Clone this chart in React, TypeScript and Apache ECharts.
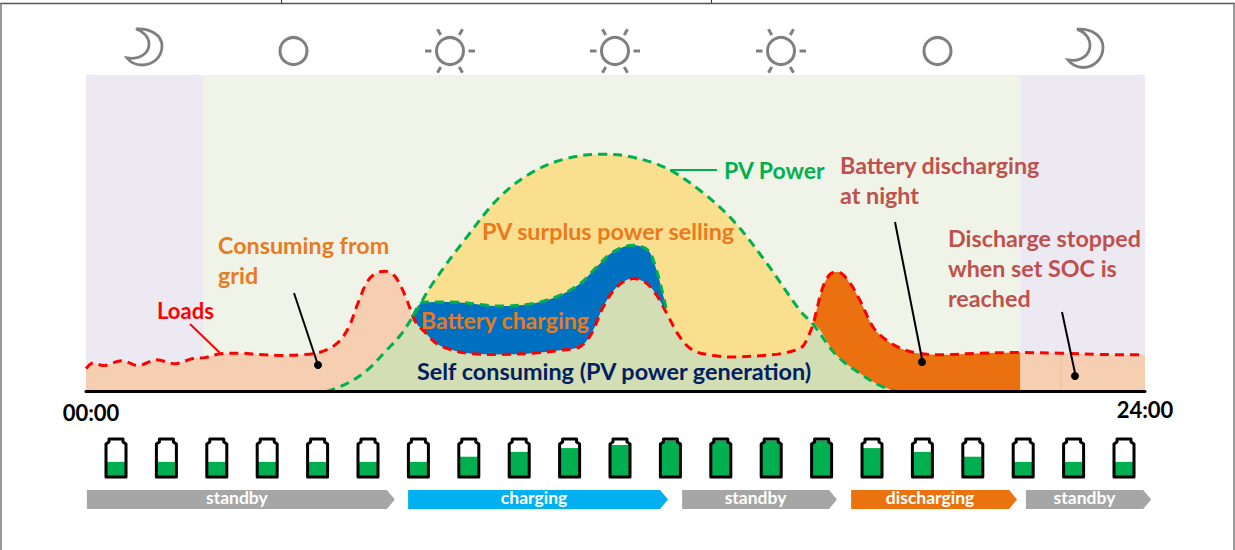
import React, { useEffect, useRef } from "react";
import * as echarts from "echarts";

// --- data: time in hours, power as a percentage of the plot height ---
const loadsHours = [0,0.16,0.39,0.81,1.18,1.6,2.02,2.42,2.7,3.04,3.49,3.94,4.4,4.85,5.3,5.68,5.94,6.16,6.37,6.55,6.78,7,7.23,7.41,7.49,7.64,7.95,8.32,8.77,9.38,10.13,10.74,11.2,11.46,11.72,12.03,12.4,12.71,12.96,13.16,13.46,13.76,14.21,14.66,15.27,15.8,16.22,16.36,16.48,16.52,16.7,16.86,17.02,17.27,17.54,17.84,18.15,18.52,18.9,19.35,20.26,21.17,22.07,22.98,24];
const loadsPower = [7.2,9,8.2,9.7,8.2,10,8.8,10.4,10.7,11.9,12.1,11.7,11.4,11.6,12.4,15.1,19.9,27.8,34.6,37.2,38,36.4,30.4,23.7,21.5,19.3,15.1,13,11.9,11.7,12.1,13,14.2,18.4,26.7,33,35.7,34.1,29.8,24.7,17.2,13,11.4,10.9,11.3,12.1,14,17.2,21.2,23.5,33,37,37.8,35.1,28.8,20.3,16.1,13.3,12,11.6,12.1,12.3,12.1,11.7,11.6];
const pvHours = [5.45,5.91,6.36,6.81,7.12,7.41,7.86,8.63,9.38,10.13,10.89,11.72,12.4,13.16,13.91,14.66,15.43,16.18,16.48,17.01,17.54,17.99,18.37];
const pvPower = [0,2.5,6.6,13,17.7,23.7,34.2,48.8,61.5,69.4,73.6,75,74,70.5,63.6,54.1,40.5,25.6,21.2,11.4,5.7,1.9,0];
const chargeHours = [7.41,7.64,8.25,9.38,10.13,10.74,11.2,11.57,11.94,12.4,12.74,12.93,13.07,13.14,13.16];
const chargePower = [23.7,28.2,28.3,27,27.8,30.4,34.1,39.3,44.1,46.2,44.6,38.3,31,26.7,24.7];
const crossIn = 7.41;
const crossOut = 16.48;
const dischargeEnd = 21.17;
const batteryLevels = [38,38,38,38,38,38,38,53,67,78,87,100,100,100,100,78,67,53,38,38,38];
const stateNames = ["standby","charging","standby","discharging","standby"];
const stateStart = [0.02,7.3,13.51,17.34,21.3];
const stateEnd = [7,13.19,17.02,21.1,24.14];
const bandStart = [0,2.67,21.17];
const bandEnd = [2.67,21.17,24];
const tickLabels = ["00:00","24:00"];

const MOON = "M136 29C150 28 162 35 162 46C162 58 152 65 142 65C136 65 130 62 127 58C140 60 149 53 149 44C149 37 143 31 136 29Z";
echarts.graphic.registerShape("moon", echarts.graphic.extendPath(MOON, {}));

const pairs = (xs: number[], ys: number[]) => xs.map((x, i) => [x, ys[i]]);
const loads = pairs(loadsHours, loadsPower);
const pv = pairs(pvHours, pvPower);
const charge = pairs(chargeHours, chargePower);
const inRange = (d: number[][], a: number, b: number) => d.filter((p) => p[0] >= a && p[0] <= b);
const selfUse = [
  ...inRange(pv, 0, crossIn),
  ...inRange(loads, crossIn + 0.01, crossOut - 0.01),
  ...inRange(pv, crossOut, 24),
];

const FONT = "Lato, 'Open Sans', sans-serif";
const smooth = 0.35;
const area = (data: number[][], color: string, z: number) => ({
  type: "line", data, z, smooth, symbol: "none", silent: true,
  lineStyle: { width: 0 }, areaStyle: { color, opacity: 1 },
});
const dashed = (data: number[][], color: string, z: number) => ({
  type: "line", data, z, smooth, symbol: "none", silent: true,
  lineStyle: { color, width: 3, type: [9, 6] },
});

const gray = "#7F7F7F";
const ORANGE = "#E97A1E";
const BRICK = "#C0504D";
const text = (t: string, x: number, y: number, fill: string, size = 23.3, align = "left") => ({
  type: "text", z: 100, style: { text: t, x, y, fill, font: `700 ${size}px ${FONT}`, align, verticalAlign: "middle" },
});
const seg = (x1: number, y1: number, x2: number, y2: number, stroke: string, lineWidth = 2) => ({
  type: "line", z: 100, shape: { x1, y1, x2, y2 }, style: { stroke, lineWidth },
});
const dot = (cx: number, cy: number) => ({
  type: "circle", z: 100, shape: { cx, cy, r: 4 }, style: { fill: "#000" },
});
const ringIcon = (cx: number, cy: number) => ({
  type: "circle", z: 100, shape: { cx, cy, r: 13.5 }, style: { fill: "none", stroke: gray, lineWidth: 3 },
});
const sunIcon = (cx: number, cy: number) => {
  const rays = [0, 60, 120, 180, 240, 300].map((deg) => {
    const a = (deg * Math.PI) / 180;
    return seg(cx + 18.5 * Math.cos(a), cy + 18.5 * Math.sin(a), cx + 25 * Math.cos(a), cy + 25 * Math.sin(a), gray, 3);
  });
  return [ringIcon(cx, cy), ...rays];
};
const moonIcon = (x: number, y: number, scaleY: number) => ({
  type: "moon", z: 100, x, y, scaleY, style: { fill: "none", stroke: gray, lineWidth: 2.8 },
});

export default function App() {
  const ref = useRef<HTMLDivElement>(null);
  useEffect(() => {
    const chart = echarts.init(ref.current!, null, { renderer: "svg" });
    const bandColors = ["#ECE9F2", "#F0F4E8", "#ECE9F2"];
    const stateColors = ["#A6A6A6", "#00B0F0", "#A6A6A6", "#EA7310", "#A6A6A6"];
    chart.setOption({
      animation: false,
      backgroundColor: "#fff",
      grid: [
        { left: 86, top: 75, width: 1059, height: 316.5 },
        { left: 90.8, top: 440.5, width: 1058.4, height: 34.5 },
        { left: 86, top: 490, width: 1059, height: 19 },
      ],
      xAxis: [
        { type: "value", min: 0, max: 24, gridIndex: 0, z: 20, splitLine: { show: false }, axisTick: { show: false }, axisLabel: { show: false },
          axisLine: { show: true, onZero: false, lineStyle: { color: "#000", width: 3 } } },
        { type: "category", gridIndex: 1, show: false, data: batteryLevels.map((_, i) => i) },
        { type: "value", min: 0, max: 24, gridIndex: 2, show: false },
      ],
      yAxis: [
        { type: "value", min: 0, max: 100, gridIndex: 0, show: false },
        { type: "value", min: 0, max: 100, gridIndex: 1, show: false },
        { type: "value", min: 0, max: 1, gridIndex: 2, show: false },
      ],
      series: [
        {
          type: "custom", z: 1, silent: true, encode: { x: [0, 1] },
          data: bandStart.map((s, i) => [s, bandEnd[i], i]),
          renderItem: (_: any, api: any) => {
            const a = api.coord([api.value(0), 100]);
            const b = api.coord([api.value(1), 0]);
            return { type: "rect", shape: { x: a[0], y: a[1], width: b[0] - a[0], height: b[1] - a[1] }, style: { fill: bandColors[api.value(2)] } };
          },
        },
        area(inRange(loads, 0, crossIn), "#F6CFB2", 2),
        area(inRange(loads, dischargeEnd, 24), "#F6CFB2", 2),
        area(inRange(loads, crossOut, dischargeEnd), "#EA7010", 2),
        area(pv, "#FADF8E", 3),
        area(charge, "#0070C0", 4),
        area(selfUse, "#D3DEB5", 5),
        dashed(loads, "#FF0000", 6),
        dashed(charge, "#00B050", 7),
        dashed(pv, "#00B050", 7),
        {
          type: "custom", xAxisIndex: 1, yAxisIndex: 1, z: 8, silent: true, clip: false, encode: { x: 0, y: 1 },
          data: batteryLevels.map((v, i) => [i, v]),
          renderItem: (_: any, api: any) => {
            const top = api.coord([api.value(0), api.value(1)])[1];
            const base = api.coord([api.value(0), 0]);
            const cx = base[0];
            const y0 = api.coord([api.value(0), 100])[1] - 1.5;
            const y1 = base[1] + 2;
            const fillPts = top < y0 + 5
              ? [[cx - 7, top], [cx + 7, top], [cx + 7, y0 + 3], [cx + 10, y0 + 5], [cx + 10, y1], [cx - 10, y1], [cx - 10, y0 + 5], [cx - 7, y0 + 3]]
              : [[cx - 10, top], [cx + 10, top], [cx + 10, y1], [cx - 10, y1]];
            return {
              type: "group",
              children: [
                { type: "polygon", shape: { points: fillPts }, style: { fill: "#00B050" } },
                { type: "polygon", shape: { points: [[cx - 7, y0], [cx + 7, y0], [cx + 7, y0 + 3], [cx + 10, y0 + 5], [cx + 10, y1], [cx - 10, y1], [cx - 10, y0 + 5], [cx - 7, y0 + 3]] },
                  style: { fill: "none", stroke: "#000", lineWidth: 3, lineJoin: "round" } },
              ],
            };
          },
        },
        {
          type: "custom", xAxisIndex: 2, yAxisIndex: 2, z: 8, silent: true, clip: false, encode: { x: [0, 1] },
          data: stateStart.map((s, i) => [s, stateEnd[i], i]),
          renderItem: (_: any, api: any) => {
            const a = api.coord([api.value(0), 1]);
            const b = api.coord([api.value(1), 0]);
            const i = api.value(2);
            const sh = b[0] - 8;
            const my = (a[1] + b[1]) / 2;
            return {
              type: "group",
              children: [
                { type: "polygon", shape: { points: [[a[0], a[1]], [sh, a[1]], [b[0], my], [sh, b[1]], [a[0], b[1]]] }, style: { fill: stateColors[i] } },
                { type: "text", style: { text: stateNames[i], x: (a[0] + sh) / 2, y: my - 2, fill: "#fff", font: `700 17.5px ${FONT}`, align: "center", verticalAlign: "middle" } },
              ],
            };
          },
        },
      ],
      graphic: [
        seg(0, 3.5, 1235, 3.5, "#555", 1.5),
        seg(1, 3, 1, 550, "#777", 1.5),
        seg(1234, 3, 1234, 550, "#777", 1.5),
        seg(281.5, 0, 281.5, 3, "#333", 1),
        seg(711.5, 0, 711.5, 3, "#333", 1),
        moonIcon(0, 0, 1),
        moonIcon(941, -1.5, 1.06),
        ringIcon(293.5, 51),
        ringIcon(937.5, 51),
        ...sunIcon(450, 51),
        ...sunIcon(615, 51),
        ...sunIcon(781, 51),
        { type: "rect", z: 5, shape: { x: 1059.5, y: 354, width: 3, height: 36 }, style: { fill: "#F3C8A6" } },
        text(tickLabels[0], 91, 412, "#000", 22, "center"),
        text(tickLabels[1], 1145, 409, "#000", 22, "center"),
        text("Loads", 157, 310, "#FF0000", 22),
        seg(190, 324, 220, 353, "#FF0000"),
        text("Consuming from", 218, 245, ORANGE),
        text("grid", 218, 275, ORANGE),
        seg(294, 293, 317, 362, "#000"),
        dot(318, 365),
        text("PV Power", 724, 170, "#00B050", 23),
        seg(670, 170, 717, 170, "#00B050"),
        text("Battery discharging", 840, 165, BRICK),
        text("at night", 840, 195, BRICK),
        seg(895, 222, 922, 359, "#000"),
        dot(922, 362),
        text("Discharge stopped", 948, 238, BRICK),
        text("when set SOC is", 948, 268, BRICK),
        text("reached", 948, 298, BRICK),
        seg(1062, 312, 1075, 373, "#000"),
        dot(1075, 376),
        text("PV surplus power selling", 482, 231, ORANGE),
        text("Battery charging", 421, 320, ORANGE, 23),
        text("Self consuming (PV power generation)", 417, 371, "#002060", 23.4),
      ],
    });
    return () => chart.dispose();
  }, []);
  return <div ref={ref} style={{ position: "absolute", left: 0, top: 0, width: 1235, height: 550 }} />;
}
